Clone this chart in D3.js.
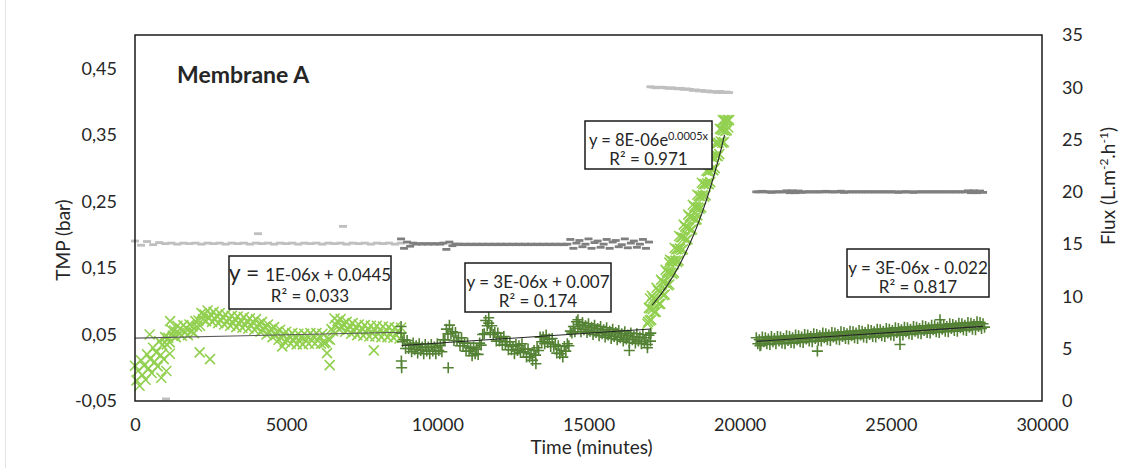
<!DOCTYPE html>
<html>
<head>
<meta charset="utf-8">
<script src="https://cdn.jsdelivr.net/npm/d3@7"></script>
<style>
  body { margin: 0; background: #fff; }
  svg { display: block; }
  text { font-family: Lato, "Open Sans", sans-serif; fill: #262626; }
</style>
</head>
<body>
<svg id="chart" width="1135" height="468"></svg>
<script>
// ---- Axis ticks ----
const timeTicks = [0, 5000, 10000, 15000, 20000, 25000, 30000];
const tmpTicks = [-0.05, 0.05, 0.15, 0.25, 0.35, 0.45];
const fluxTicks = [0, 5, 10, 15, 20, 25, 30, 35];

// ---- TMP (bar), logged every 50 min (every 25 min in phase 3) ----
const tmpPhase1Start = 0, tmpPhase1Step = 50;
const tmpPhase1 = [
  0.003, -0.019, -0.005, -0.027, 0.011, -0.011, 0.003, -0.018, 0.02, -0.001, 0.013,
  -0.008, 0.03, 0.009, 0.023, 0.002, 0.04, 0.019, 0.034, 0.013, 0.046,
  0.035, 0.045, 0.038, 0.057, 0.048, 0.056, 0.046, 0.063, 0.052, 0.059,
  0.048, 0.064, 0.053, 0.059, 0.049, 0.065, 0.055, 0.062, 0.052, 0.07,
  0.062, 0.071, 0.063, 0.082, 0.073, 0.08, 0.07, 0.086, 0.075, 0.08,
  0.069, 0.084, 0.073, 0.078, 0.067, 0.082, 0.071, 0.076, 0.065, 0.08,
  0.069, 0.074, 0.063, 0.078, 0.067, 0.073, 0.061, 0.077, 0.066, 0.071,
  0.06, 0.076, 0.064, 0.07, 0.059, 0.074, 0.063, 0.069, 0.057, 0.073,
  0.061, 0.066, 0.054, 0.069, 0.057, 0.062, 0.05, 0.065, 0.053, 0.058,
  0.046, 0.061, 0.049, 0.054, 0.042, 0.057, 0.045, 0.05, 0.039, 0.054,
  0.041, 0.047, 0.036, 0.052, 0.041, 0.046, 0.035, 0.051, 0.04, 0.046,
  0.035, 0.051, 0.041, 0.047, 0.036, 0.052, 0.041, 0.047, 0.036, 0.052,
  0.041, 0.047, 0.036, 0.051, 0.037, 0.038, 0.022, 0.043, 0.042, 0.058,
  0.055, 0.074, 0.064, 0.07, 0.058, 0.073, 0.061, 0.066, 0.054, 0.069,
  0.057, 0.063, 0.051, 0.067, 0.055, 0.061, 0.049, 0.065, 0.054, 0.059,
  0.048, 0.064, 0.053, 0.058, 0.047, 0.063, 0.052, 0.058, 0.047, 0.063,
  0.051, 0.057, 0.046, 0.062, 0.051, 0.057, 0.046, 0.061, 0.05, 0.056,
  0.045, 0.06, 0.049, 0.055, 0.044, 0.06
];
const tmpPhase2Start = 8800, tmpPhase2Step = 50;
const tmpPhase2 = [
  0.052, 0.039, 0.042, 0.029, 0.041,
  0.029, 0.034, 0.024, 0.037, 0.027, 0.033, 0.022, 0.036, 0.026, 0.031,
  0.021, 0.035, 0.025, 0.031, 0.021, 0.035, 0.025, 0.031, 0.021, 0.036,
  0.026, 0.033, 0.024, 0.042, 0.042, 0.058, 0.051, 0.064, 0.051, 0.054,
  0.041, 0.053, 0.041, 0.045, 0.033, 0.045, 0.033, 0.037, 0.025, 0.037,
  0.025, 0.029, 0.018, 0.031, 0.021, 0.028, 0.02, 0.037, 0.034, 0.05,
  0.051, 0.071, 0.063, 0.067, 0.053, 0.063, 0.05, 0.053, 0.04, 0.052,
  0.04, 0.045, 0.034, 0.047, 0.035, 0.039, 0.027, 0.039, 0.027, 0.032,
  0.021, 0.035, 0.026, 0.033, 0.023, 0.036, 0.024, 0.028, 0.016, 0.028,
  0.016, 0.021, 0.011, 0.026, 0.019, 0.03, 0.026, 0.046, 0.039, 0.046,
  0.036, 0.049, 0.038, 0.043, 0.032, 0.044, 0.032, 0.035, 0.022, 0.033,
  0.021, 0.026, 0.016, 0.032, 0.025, 0.036, 0.033, 0.055, 0.052, 0.062,
  0.054, 0.069, 0.059, 0.065, 0.054, 0.068, 0.057, 0.063, 0.053, 0.066,
  0.055, 0.061, 0.05, 0.064, 0.053, 0.059, 0.048, 0.062, 0.051, 0.057,
  0.046, 0.06, 0.049, 0.055, 0.044, 0.058, 0.047, 0.053, 0.042, 0.056,
  0.045, 0.051, 0.04, 0.054, 0.043, 0.049, 0.038, 0.052, 0.042, 0.047,
  0.037, 0.051, 0.04, 0.046, 0.036, 0.05, 0.039, 0.045, 0.035, 0.049,
  0.04
];
const tmpPhase3Start = 16950, tmpPhase3Step = 25;
const tmpPhase3 = [
  0.066, 0.069, 0.09, 0.071, 0.089, 0.072, 0.108, 0.088, 0.104, 0.084,
  0.102, 0.084, 0.12, 0.1, 0.116, 0.096, 0.114, 0.096, 0.132, 0.112,
  0.129, 0.109, 0.128, 0.11, 0.147, 0.127, 0.144, 0.124, 0.143, 0.125,
  0.162, 0.143, 0.16, 0.141, 0.16, 0.143, 0.18, 0.161, 0.178, 0.159,
  0.178, 0.161, 0.198, 0.179, 0.196, 0.177, 0.196, 0.178, 0.215, 0.195,
  0.212, 0.192, 0.211, 0.193, 0.23, 0.21, 0.227, 0.207, 0.226, 0.208,
  0.245, 0.225, 0.242, 0.222, 0.241, 0.223, 0.26, 0.241, 0.258, 0.239,
  0.258, 0.241, 0.278, 0.259, 0.276, 0.257, 0.276, 0.259, 0.296, 0.277,
  0.295, 0.276, 0.296, 0.279, 0.317, 0.298, 0.316, 0.297, 0.317, 0.3,
  0.338, 0.319, 0.337, 0.318, 0.338, 0.321, 0.359, 0.34, 0.358, 0.338,
  0.357, 0.339, 0.372, 0.356, 0.371, 0.357, 0.372, 0.361, 0.372
];
const tmpPhase4Start = 20550, tmpPhase4Step = 50;
const tmpPhase4 = [
  0.045, 0.036, 0.042, 0.034, 0.046, 0.039, 0.045, 0.036, 0.043, 0.035,
  0.047, 0.039, 0.044, 0.036, 0.047, 0.04, 0.046, 0.037, 0.044, 0.036,
  0.048, 0.041, 0.047, 0.038, 0.045, 0.037, 0.049, 0.042, 0.048, 0.039,
  0.046, 0.038, 0.05, 0.043, 0.049, 0.04, 0.047, 0.039, 0.051, 0.044,
  0.05, 0.041, 0.048, 0.04, 0.052, 0.045, 0.051, 0.042, 0.049, 0.041,
  0.053, 0.046, 0.052, 0.043, 0.05, 0.042, 0.054, 0.047, 0.053, 0.044,
  0.051, 0.043, 0.055, 0.048, 0.054, 0.045, 0.052, 0.044, 0.056, 0.049,
  0.055, 0.046, 0.053, 0.045, 0.057, 0.05, 0.056, 0.047, 0.054, 0.046,
  0.058, 0.051, 0.057, 0.048, 0.055, 0.047, 0.059, 0.052, 0.058, 0.049,
  0.056, 0.048, 0.06, 0.053, 0.059, 0.05, 0.057, 0.049, 0.061, 0.054,
  0.06, 0.051, 0.058, 0.05, 0.062, 0.055, 0.061, 0.052, 0.059, 0.051,
  0.063, 0.056, 0.062, 0.053, 0.06, 0.052, 0.064, 0.057, 0.063, 0.054,
  0.061, 0.053, 0.065, 0.058, 0.064, 0.055, 0.062, 0.054, 0.066, 0.059,
  0.065, 0.056, 0.063, 0.055, 0.067, 0.06, 0.066, 0.057, 0.064, 0.056,
  0.068, 0.061, 0.067, 0.058, 0.065, 0.057, 0.069, 0.062, 0.068, 0.059,
  0.066, 0.061
];
// isolated readings [time, TMP]
const tmpStray1 = [[485, 0.05], [870, -0.015], [1036, -0.005], [1150, 0.021], [1160, 0.07],
  [2140, 0.023], [2480, 0.013], [4870, 0.032], [6440, 0.004], [7900, 0.026]];
const tmpStray2 = [[8800, 0.062], [8810, 0.01], [8820, 0.0], [10360, 0.0], [11700, 0.075],
  [13260, 0.006], [14650, 0.072], [16350, 0.026], [16950, 0.03], [17060, 0.052]];
const tmpStray3 = [[17035, 0.104], [17673, 0.158], [18600, 0.229], [19450, 0.372]];
const tmpStray4 = [[20672, 0.033], [22570, 0.025], [25303, 0.035], [26626, 0.072]];

// ---- Flux (L.m-2.h-1) ----
const fluxPhase1Start = 0, fluxPhase1Step = 200;
const fluxPhase1 = [
  15.3, 14.9, 15.25, 14.95, 15.15, 15.05, 15.1, 15.0, 15.1, 15.05,
  15.1, 15.0, 15.1, 15.05, 15.1, 15.0, 15.1, 15.05, 15.1, 15.0,
  15.1, 15.05, 15.1, 15.0, 15.1, 15.05, 15.1, 15.0, 15.1, 15.05,
  15.1, 15.0, 15.1, 15.05, 15.1, 15.0, 15.1, 15.05, 15.1, 15.0,
  15.1, 15.05, 15.1, 15.0, 15.1
];
const fluxPhase2Start = 8800, fluxPhase2Step = 100;
const fluxPhase2 = [
  15.5, 14.6, 15.2, 14.8, 15.1, 15.0, 15.05, 15.0, 15.05, 15.0,
  15.05, 15.0, 15.05, 15.0, 15.1, 14.5, 15.2, 14.85, 15.0, 15.0,
  14.95, 15.0, 14.95, 15.0, 14.95, 15.0, 14.95, 15.0, 14.95, 15.0,
  14.95, 15.0, 14.95, 15.0, 14.95, 15.0, 14.95, 15.0, 14.95, 15.0,
  14.95, 15.0, 14.95, 15.0, 14.95, 15.0, 14.95, 15.0, 14.95, 15.0,
  14.95, 15.0, 14.95, 15.0, 14.95, 15.0, 15.45, 14.6, 15.1, 15.35,
  14.75, 15.0, 15.5, 14.6, 15.15, 15.3, 14.7, 15.0, 15.45, 14.6,
  15.2, 15.35, 14.75, 14.95, 15.5, 14.65, 15.1, 15.3, 14.7, 15.0,
  15.45, 14.6, 15.2
];
const fluxPhase3Start = 17050, fluxPhase3Step = 100;
const fluxPhase3 = [
  30.05, 30.0, 29.95, 30.0, 30.0, 29.95, 29.9, 29.95, 29.9, 29.85,
  29.9, 29.8, 29.85, 29.8, 29.7, 29.75, 29.65, 29.7, 29.6, 29.65,
  29.55, 29.6, 29.5, 29.6, 29.5, 29.55, 29.5
];
const fluxPhase4Start = 20550, fluxPhase4Step = 100;
const fluxPhase4 = [
  20.0, 20.0, 20.05, 20.0, 20.0, 19.95, 20.0, 20.0, 20.0, 20.0,
  20.1, 19.92, 20.1, 19.92, 20.08, 19.95, 20.0, 20.0, 20.0, 20.0,
  20.0, 20.0, 20.0, 20.05, 20.0, 20.0, 20.0, 20.0, 20.06, 19.95,
  20.0, 20.0, 20.0, 20.0, 20.0, 20.0, 20.0, 20.0, 20.0, 20.0,
  20.0, 20.0, 20.0, 20.0, 20.0, 20.0, 20.0, 19.95, 20.0, 20.0,
  20.0, 20.0, 19.95, 20.0, 20.0, 20.0, 20.0, 20.0, 20.0, 20.0,
  20.0, 20.0, 20.0, 20.0, 20.0, 20.0, 20.0, 20.0, 20.0, 20.0,
  20.1, 19.92, 20.1, 19.92, 20.08, 19.95
];
// isolated flux readings [time, flux]
const fluxStray = [[1025, 0.2], [4070, 16.0], [6880, 16.7]];

// ---- Trend-line fits and their R² ----
const linearFits = [
  { slope: 1e-6, intercept: 0.0445, from: 0, to: 8800, r2: 0.033 },
  { slope: 3e-6, intercept: 0.007, from: 8820, to: 17060, r2: 0.174 },
  { slope: 3e-6, intercept: -0.022, from: 20560, to: 28050, r2: 0.817 }
];
const expFit = { a: 8e-6, k: 0.000548, from: 17100, to: 19500, r2: 0.971 };

// ---- Layout ----
const svg = d3.select("#chart");
const L = 135, R = 1042, T = 35, B = 401;
const x = d3.scaleLinear().domain([0, 30000]).range([L, R]);
const yL = d3.scaleLinear().domain([-0.05, 0.5]).range([B, T]);
const yR = d3.scaleLinear().domain([0, 35]).range([B, T]);

const LIGHT_GREEN = "#92d050", DARK_GREEN = "#548235";
const LIGHT_GRAY = "#bfbfbf", DARK_GRAY = "#7f7f7f";
const FONT = "Lato, 'Open Sans', sans-serif";

// faint frame edge on the left of the figure
svg.append("line").attr("x1", 5.5).attr("x2", 5.5).attr("y1", 0).attr("y2", 468)
  .attr("stroke", "#e3e3e3").attr("stroke-width", 1);

// sampled series -> [t, v]
function expand(start, step, values) {
  return values.map((v, i) => [start + i * step, v]);
}

// Flux as short dash markers
const dash = "M-4,0H4";
const fluxGroups = [
  { pts: expand(fluxPhase1Start, fluxPhase1Step, fluxPhase1).concat(fluxStray), color: LIGHT_GRAY },
  { pts: expand(fluxPhase2Start, fluxPhase2Step, fluxPhase2), color: DARK_GRAY },
  { pts: expand(fluxPhase3Start, fluxPhase3Step, fluxPhase3), color: LIGHT_GRAY },
  { pts: expand(fluxPhase4Start, fluxPhase4Step, fluxPhase4), color: DARK_GRAY }
];
const gFlux = svg.append("g");
fluxGroups.forEach(grp => {
  gFlux.append("g").selectAll("path").data(grp.pts).join("path")
    .attr("d", dash)
    .attr("transform", d => `translate(${x(d[0])},${yR(d[1])})`)
    .attr("stroke", grp.color).attr("stroke-width", 2.8).attr("fill", "none");
});

// TMP markers: × for the light-green phases, + for the dark-green phases
const cross = "M-5,-5L5,5M-5,5L5,-5";
const plus = "M-5.5,0H5.5M0,-5.5V5.5";
const tmpGroups = [
  { pts: expand(tmpPhase1Start, tmpPhase1Step, tmpPhase1).concat(tmpStray1), shape: cross, color: LIGHT_GREEN },
  { pts: expand(tmpPhase2Start, tmpPhase2Step, tmpPhase2).concat(tmpStray2), shape: plus, color: DARK_GREEN },
  { pts: expand(tmpPhase3Start, tmpPhase3Step, tmpPhase3).concat(tmpStray3), shape: cross, color: LIGHT_GREEN },
  { pts: expand(tmpPhase4Start, tmpPhase4Step, tmpPhase4).concat(tmpStray4), shape: plus, color: DARK_GREEN }
];
const gTmp = svg.append("g");
tmpGroups.forEach(grp => {
  gTmp.append("g").selectAll("path").data(grp.pts).join("path")
    .attr("d", grp.shape)
    .attr("transform", d => `translate(${x(d[0])},${yL(d[1])})`)
    .attr("stroke", grp.color).attr("stroke-width", 1.6).attr("fill", "none");
});

// Trend lines
const line = d3.line().x(d => x(d[0])).y(d => yL(d[1]));
linearFits.forEach((f, i) => {
  svg.append("path")
    .attr("d", line([[f.from, f.slope * f.from + f.intercept], [f.to, f.slope * f.to + f.intercept]]))
    .attr("stroke", i === 0 ? "#595959" : "#262626").attr("stroke-width", 1.1).attr("fill", "none");
});
const expPts = d3.range(expFit.from, expFit.to + 1, 50).map(t => [t, expFit.a * Math.exp(expFit.k * t)]);
svg.append("path").attr("d", line(expPts))
  .attr("stroke", "#262626").attr("stroke-width", 1.1).attr("fill", "none");

// Plot-area border
svg.append("rect").attr("x", L).attr("y", T).attr("width", R - L).attr("height", B - T)
  .attr("fill", "none").attr("stroke", "#1a1a1a").attr("stroke-width", 1.5);

// Axes
const commaFmt = d => d3.format(".2f")(d).replace("\u2212", "-").replace(".", ",");
const axL = svg.append("g").attr("transform", `translate(${L},0)`)
  .call(d3.axisLeft(yL).tickValues(tmpTicks).tickSize(0).tickPadding(18).tickFormat(commaFmt));
const axR = svg.append("g").attr("transform", `translate(${R},0)`)
  .call(d3.axisRight(yR).tickValues(fluxTicks).tickSize(0).tickPadding(20).tickFormat(d3.format("d")));
const axB = svg.append("g").attr("transform", `translate(0,${B})`)
  .call(d3.axisBottom(x).tickValues(timeTicks).tickSize(0).tickPadding(17).tickFormat(d3.format("d")));
[axL, axR, axB].forEach(a => {
  a.select(".domain").remove();
  a.selectAll("text").attr("font-size", 18).attr("font-family", FONT).attr("fill", "#262626");
});

// Axis titles
svg.append("text").attr("transform", "translate(70,240) rotate(-90)")
  .attr("text-anchor", "middle").attr("font-size", 19).text("TMP (bar)");
svg.append("text").attr("x", (L + R) / 2 + 3).attr("y", 454)
  .attr("text-anchor", "middle").attr("font-size", 19).text("Time (minutes)");
const fluxTitle = svg.append("text").attr("transform", "translate(1115,186) rotate(-90)")
  .attr("text-anchor", "middle").attr("font-size", 19);
fluxTitle.append("tspan").text("Flux (L.m");
fluxTitle.append("tspan").attr("font-size", 12).attr("dy", -7).text("-2");
fluxTitle.append("tspan").attr("dy", 7).text(".h");
fluxTitle.append("tspan").attr("font-size", 12).attr("dy", -7).text("-1");
fluxTitle.append("tspan").attr("dy", 7).text(")");

// Panel title
svg.append("text").attr("x", 177).attr("y", 83).attr("font-size", 23)
  .attr("font-weight", 700).attr("fill", "#1a1a1a").text("Membrane A");

// Equation boxes
function sci(v) {
  const [m, e] = v.toExponential(0).split("e");
  const n = +e;
  return m + "E" + (n < 0 ? "-" : "+") + String(Math.abs(n)).padStart(2, "0");
}
function linearLabel(f) {
  return sci(f.slope) + "x " + (f.intercept < 0 ? "- " : "+ ") + String(Math.abs(f.intercept));
}
const boxes = [
  { x: 229, y: 256, w: 162, h: 53, fit: linearFits[0], bigY: true },
  { x: 465, y: 263, w: 146, h: 49, fit: linearFits[1] },
  { x: 585, y: 121, w: 127, h: 48, exp: true },
  { x: 847, y: 249, w: 142, h: 48, fit: linearFits[2] }
];
boxes.forEach(b => {
  const g = svg.append("g");
  g.append("rect").attr("x", b.x).attr("y", b.y).attr("width", b.w).attr("height", b.h)
    .attr("fill", "#fff").attr("stroke", "#1a1a1a").attr("stroke-width", 1.5);
  const cx = b.x + b.w / 2;
  const t1 = g.append("text").attr("x", cx).attr("y", b.y + 25)
    .attr("text-anchor", "middle").attr("font-size", 17);
  let r2;
  if (b.exp) {
    t1.attr("font-size", 16.5);
    t1.append("tspan").text("y = " + sci(expFit.a) + "e");
    t1.append("tspan").attr("font-size", 11).attr("dy", -6).text(expFit.k.toPrecision(1) + "x");
    r2 = expFit.r2;
  } else {
    if (b.bigY) {
      t1.append("tspan").attr("font-size", 23).text("y = ");
    } else {
      t1.append("tspan").text("y = ");
    }
    t1.append("tspan").text(linearLabel(b.fit));
    r2 = b.fit.r2;
  }
  g.append("text").attr("x", cx).attr("y", b.y + (b.bigY ? 46 : 44))
    .attr("text-anchor", "middle").attr("font-size", 17).text("R\u00b2 = " + r2.toFixed(3));
});
</script>
</body>
</html>
